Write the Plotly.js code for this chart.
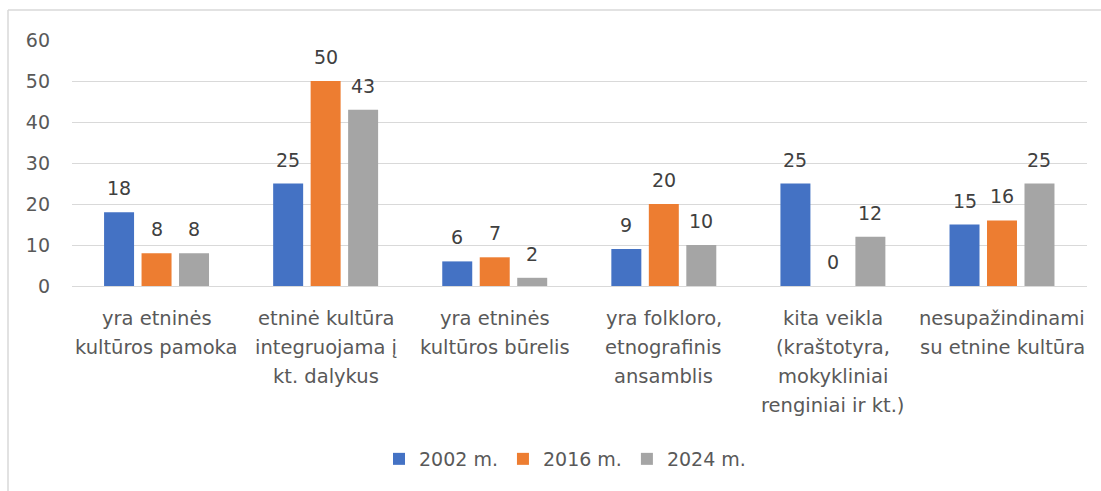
<!DOCTYPE html>
<html>
<head>
<meta charset="utf-8">
<script src="https://cdn.plot.ly/plotly-3.0.1.min.js"></script>
<style>
html,body{margin:0;padding:0;background:#fff;}
#chart{width:1101px;height:491px;}
</style>
</head>
<body>
<div id="chart"></div>
<script>
// ---- data ----
var categories = [
  "yra etninės kultūros pamoka",
  "etninė kultūra integruojama į kt. dalykus",
  "yra etninės kultūros būrelis",
  "yra folkloro, etnografinis ansamblis",
  "kita veikla (kraštotyra, mokykliniai renginiai ir kt.)",
  "nesupažindinami su etnine kultūra"
];
var categoryLines = [
  ["yra etninės", "kultūros pamoka"],
  ["etninė kultūra", "integruojama į", "kt. dalykus"],
  ["yra etninės", "kultūros būrelis"],
  ["yra folkloro,", "etnografinis", "ansamblis"],
  ["kita veikla", "(kraštotyra,", "mokykliniai", "renginiai ir kt.)"],
  ["nesupažindinami", "su etnine kultūra"]
];
var seriesNames = ["2002 m.", "2016 m.", "2024 m."];
var values2002 = [18, 25, 6, 9, 25, 15];
var values2016 = [8, 50, 7, 20, 0, 16];
var values2024 = [8, 43, 2, 10, 12, 25];
var yTicks = [0, 10, 20, 30, 40, 50, 60];

// ---- styling ----
var colors = ["#4472C4", "#ED7D31", "#A5A5A5"];
var FONT = "'DejaVu Sans', 'Open Sans', sans-serif";
var W = 1101, H = 491;
var M = {l: 72, r: 14, t: 40, b: 205};
var BARGAP = 0.335, BARGROUPGAP = 0.2;
var plotW = W - M.l - M.r, plotH = H - M.t - M.b;
var catW = plotW / categories.length;
var slotW = catW * (1 - BARGAP) / seriesNames.length;

var allValues = [values2002, values2016, values2024];
var traces = allValues.map(function (vals, j) {
  return {
    type: "bar",
    name: seriesNames[j],
    x: categories,
    y: vals,
    marker: {color: colors[j]},
    hoverinfo: "x+y+name"
  };
});

var annotations = [];
// data labels
allValues.forEach(function (vals, j) {
  vals.forEach(function (v, i) {
    annotations.push({
      xref: "x", yref: "y",
      x: categories[i], y: v,
      xshift: (j - 1) * slotW,
      yshift: 24,
      yanchor: "middle", xanchor: "center",
      text: String(v),
      showarrow: false,
      font: {family: FONT, size: 19, color: "#404040"}
    });
  });
});
// category labels (line by line for Excel-like line spacing)
categoryLines.forEach(function (lines, i) {
  lines.forEach(function (ln, k) {
    annotations.push({
      xref: "x", yref: "paper",
      x: categories[i], y: 0,
      yshift: -(32 + 29.3 * k),
      yanchor: "middle", xanchor: "center",
      text: ln,
      showarrow: false,
      font: {family: FONT, size: 19.5, color: "#595959"}
    });
  });
});

var px2paperX = function (px) { return (px - M.l) / plotW; };
var px2paperY = function (py) { return (H - M.b - py) / plotH; };

var layout = {
  width: W, height: H,
  margin: M,
  paper_bgcolor: "#ffffff",
  plot_bgcolor: "#ffffff",
  barmode: "group",
  bargap: BARGAP,
  bargroupgap: BARGROUPGAP,
  font: {family: FONT, size: 19, color: "#595959"},
  showlegend: true,
  legend: {
    orientation: "h",
    x: px2paperX(565), xanchor: "center",
    y: px2paperY(459), yanchor: "middle",
    font: {family: FONT, size: 19, color: "#595959"},
    bgcolor: "rgba(0,0,0,0)",
    itemclick: false
  },
  xaxis: {
    type: "category",
    showticklabels: false,
    showgrid: false,
    zeroline: false,
    showline: false,
    ticks: "",
    fixedrange: true
  },
  yaxis: {
    range: [0, 60],
    tickvals: yTicks,
    ticktext: yTicks.map(String),
    showgrid: true,
    gridcolor: "#d9d9d9",
    gridwidth: 1,
    zeroline: true,
    zerolinecolor: "#d9d9d9",
    zerolinewidth: 1,
    showline: false,
    ticks: "",
    ticklabelstandoff: 21,
    tickfont: {family: FONT, size: 19, color: "#595959"},
    fixedrange: true
  },
  annotations: annotations,
  shapes: [
    {type: "line", xref: "paper", yref: "paper",
     x0: px2paperX(8), x1: px2paperX(1101), y0: px2paperY(10), y1: px2paperY(10),
     line: {color: "#d9d9d9", width: 1.5}},
    {type: "line", xref: "paper", yref: "paper",
     x0: px2paperX(8), x1: px2paperX(8), y0: px2paperY(10), y1: px2paperY(491),
     line: {color: "#d9d9d9", width: 1.5}}
  ]
};

Plotly.newPlot("chart", traces, layout, {displayModeBar: false, staticPlot: false});
</script>
</body>
</html>
